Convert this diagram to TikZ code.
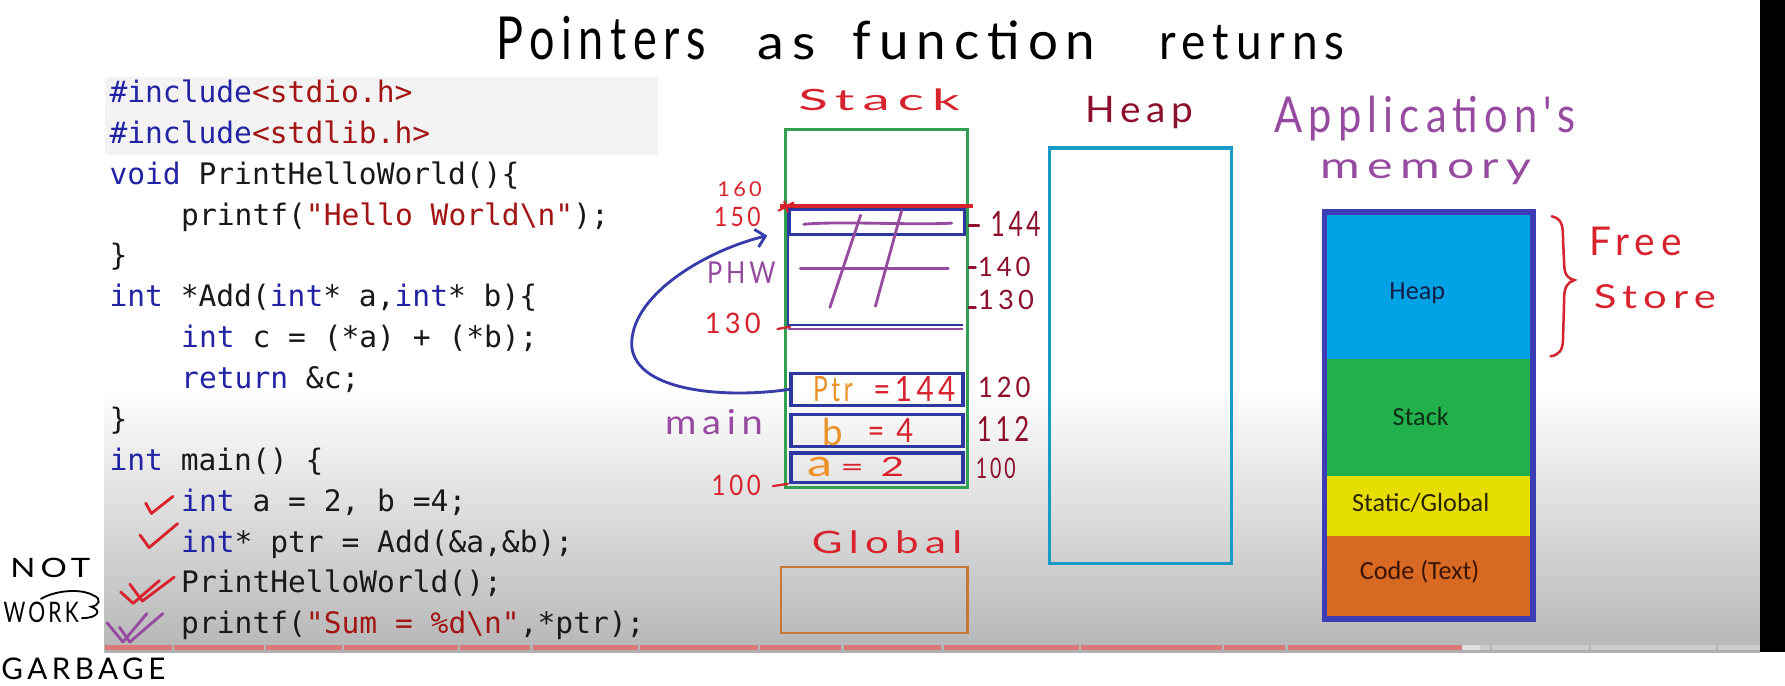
\documentclass[tikz,border=0pt]{standalone}
\usepackage{fontspec}
\usepackage{graphicx}
\usetikzlibrary{arrows.meta}
\newfontfamily\codefont{DejaVu Sans Mono}
\newfontfamily\handfont{Lato}[LetterSpace=15]
\newfontfamily\calfont{Carlito}
\newcommand\hwtext[3]{\resizebox{#1pt}{#2pt}{\handfont #3}}
\definecolor{kwblue}{RGB}{35,35,165}
\definecolor{strred}{RGB}{163,21,21}
\definecolor{codeblack}{RGB}{25,25,25}
\definecolor{hlgrey}{RGB}{243,243,243}
\definecolor{stackgreen}{RGB}{50,160,80}
\definecolor{boxblue}{RGB}{45,55,160}
\definecolor{redhand}{RGB}{215,35,45}
\definecolor{darkred}{RGB}{140,15,45}
\definecolor{purp}{RGB}{150,75,160}
\definecolor{orangeh}{RGB}{235,145,40}
\definecolor{arrowblue}{RGB}{55,60,170}
\definecolor{globorange}{RGB}{200,120,50}
\definecolor{heapcyan}{RGB}{25,155,200}
\definecolor{memborder}{RGB}{60,60,180}
\definecolor{memheap}{RGB}{0,162,230}
\definecolor{memstack}{RGB}{34,176,76}
\definecolor{memstatic}{RGB}{230,222,0}
\definecolor{memcode}{RGB}{215,105,35}
\definecolor{barred}{RGB}{218,120,120}
\definecolor{bgbot}{RGB}{182,182,182}
\newcommand\kwc[1]{\textcolor{kwblue}{#1}}
\newcommand\strc[1]{\textcolor{strred}{#1}}
\tikzset{
  hand/.style={inner sep=0pt, anchor=base west},
  codeline/.style={inner sep=0pt, anchor=base west, text=codeblack, font=\codefont\fontsize{26}{30}\selectfont},
  membox/.style={draw=boxblue, line width=3pt, minimum width=151pt, inner sep=0pt},
  chkred/.style={draw=redhand, line width=2.5pt, line cap=round, line join=round},
  chkpur/.style={draw=purp, line width=2.5pt, line cap=round, line join=round},
  strokep/.style={draw=purp, line width=2.5pt, line cap=round},
  memseg/.style={inner sep=0pt, minimum width=188pt, draw=none},
  memlbl/.style={inner sep=0pt, font=\calfont\fontsize{23}{26}\selectfont},
}
\begin{document}
\begin{tikzpicture}[x=1pt,y=-1pt]
\useasboundingbox (0,0) rectangle (1568,602);
\fill[white] (0,0) rectangle (1568,602);
% video frame background
\shade[top color=white, bottom color=bgbot] (92,340) rectangle (1546,573);
\fill[black] (1546,0) rectangle (1568,573);
% progress bar
\fill[gray!62] (92,570) rectangle (1546,573.5);
\fill[barred] (92,567) rectangle (1284,571);
\foreach \g in {151,232,300,402,466,560,666,739,827,948,1073,1129}
  \fill[bgbot] (\g,567) rectangle (\g+2,571);
\fill[gray!25] (1284,567) rectangle (1300,571);
\fill[gray!40] (1300,567) rectangle (1546,571);
\foreach \g in {1309,1396,1507}
  \fill[bgbot] (\g,567) rectangle (\g+2,571);
% code highlight
\fill[hlgrey] (92,68) rectangle (578,136);

% title
\node[hand] (t1) at (436,52) {\hwtext{184}{38}{Pointers}};
\node[hand] (t2) at (665,52) {\hwtext{51}{22}{as}};
\node[hand] (t3) at (749,52) {\hwtext{213}{34}{function}};
\node[hand] (t4) at (1018,52) {\hwtext{163}{30}{returns}};

% code
\node[codeline] (c1) at (96,90) {\kwc{\#include}\strc{<stdio.h>}};
\node[codeline] (c2) at (96,125.9) {\kwc{\#include}\strc{<stdlib.h>}};
\node[codeline] (c3) at (96,161.8) {\kwc{void} PrintHelloWorld()\{};
\node[codeline] (c4) at (159,197.7) {printf(\strc{"Hello World\textbackslash n"});};
\node[codeline] (c5) at (96,233.6) {\}};
\node[codeline] (c6) at (96,269.5) {\kwc{int} *Add(\kwc{int}* a,\kwc{int}* b)\{};
\node[codeline] (c7) at (159,305.4) {\kwc{int} c = (*a) + (*b);};
\node[codeline] (c8) at (159,341.3) {\kwc{return} \&c;};
\node[codeline] (c9) at (96,377.2) {\}};
\node[codeline] (c10) at (96,413.1) {\kwc{int} main() \{};
\node[codeline] (c11) at (159,449) {\kwc{int} a = 2, b =4;};
\node[codeline] (c12) at (159,484.9) {\kwc{int}* ptr = Add(\&a,\&b);};
\node[codeline] (c13) at (159,520.8) {PrintHelloWorld();};
\node[codeline] (c14) at (159,556.7) {printf(\strc{"Sum = \%d\textbackslash n"},*ptr);};

% check marks
\draw[chkred] (128,442) -- (133,451) -- (152,436);
\draw[chkred] (123,470) -- (131,481) -- (156,460);
\draw[chkred] (106,520) -- (117,530) -- (140,510);
\draw[chkred] (114,513) -- (125,528) -- (153,507);
\draw[chkpur] (94,547) -- (108,564) -- (129,539);
\draw[chkpur] (105,551) -- (114,564) -- (143,539);

% left annotations
\node[hand] (nnot) at (9,507) {\hwtext{70}{17}{NOT}};
\node[hand] (nwork) at (3,547) {\hwtext{66}{18}{WORK}};
\node[hand] (ngarb) at (1,597) {\hwtext{144}{19}{GARBAGE}};
\coordinate (wa1) at (36,526);
\coordinate (wa2) at (72,543);
\draw[black, line width=1.6pt, line cap=round] (wa1) .. controls (50,518) and (72,517) .. (82,523) .. controls (90,526) and (87,532) .. (80,533) .. controls (90,536) and (86,543) .. (wa2);

% stack
\node[hand, text=redhand] (lstack) at (701,97) {\hwtext{142}{19}{Stack}};
\node[draw=stackgreen, line width=2.5pt, minimum width=160pt, minimum height=314pt, inner sep=0pt] (stack) at (770,271) {};
\node[membox, minimum width=154pt, minimum height=22pt] (cbox) at (770,195) {};
\node[membox, minimum height=28pt] (ptrbox) at (770.5,342) {};
\node[membox, minimum height=28pt] (bbox) at (770.5,378) {};
\node[membox, minimum height=26pt] (abox) at (770.5,411) {};
\draw[redhand, line width=3pt] (685,181) -- (855,181);
\draw[redhand, line width=2pt, line cap=round] (684,185) -- (697,178);
\draw[redhand, line width=2pt, line cap=round] (689,177) -- (692,186);
% crossed-out frame
\draw[strokep] (706,197) .. controls (740,194) and (800,198) .. (836,196);
\draw[strokep] (703,236) -- (833,236);
\draw[strokep] (756,189) -- (729,270);
\draw[strokep] (792,185) -- (769,269);
\draw[boxblue, line width=2pt] (692,285.5) -- (846,285.5);
\draw[purp, line width=2pt] (692,289) -- (846,289);
\draw[boxblue, line width=1.5pt] (692,207) -- (692,287);
\draw[redhand, line width=2pt, line cap=round] (683,289) -- (694,287);
\draw[redhand, line width=2pt, line cap=round] (679,427) -- (692,425);
\draw[darkred, line width=2pt, line cap=round] (851,198) -- (860,198);
\draw[darkred, line width=2pt, line cap=round] (851,235) -- (857,235);
\draw[darkred, line width=2pt, line cap=round] (851,270) -- (857,270);
% left labels
\node[hand, text=redhand] (l160) at (630,173) {\hwtext{39}{13}{160}};
\node[hand, text=redhand] (l150) at (627,199) {\hwtext{41}{17}{150}};
\node[hand, text=purp] (lphw) at (621,249) {\hwtext{60}{19}{PHW}};
\node[hand, text=redhand] (l130) at (619,293) {\hwtext{49}{18}{130}};
\node[hand, text=purp] (lmain) at (584,382) {\hwtext{86}{22}{main}};
\node[hand, text=redhand] (l100) at (625,435) {\hwtext{43}{18}{100}};
% right labels
\node[hand, text=darkred] (r144) at (870,208) {\hwtext{44}{22}{144}};
\node[hand, text=darkred] (r140) at (859,243) {\hwtext{46}{17}{140}};
\node[hand, text=darkred] (r130) at (859,272) {\hwtext{49}{17}{130}};
\node[hand, text=darkred] (r120) at (859,349) {\hwtext{46}{18}{120}};
\node[hand, text=darkred] (r112) at (858,388) {\hwtext{46}{22}{112}};
\node[hand, text=darkred] (r100) at (857,420) {\hwtext{35}{18}{100}};
% box contents
\node[hand, text=orangeh] (vptr) at (714,353) {\hwtext{35}{22}{Ptr}};
\node[hand, text=redhand] (vptrv) at (767,353) {\hwtext{72}{22}{=144}};
\node[hand, text=orangeh] (vb) at (722,391) {\hwtext{18}{24}{b}};
\node[hand, text=redhand] (vbv) at (762,389) {\hwtext{40}{21}{= 4}};
\node[hand, text=orangeh] (va) at (709,419) {\hwtext{22}{17}{a}};
\node[hand, text=redhand] (vav) at (738,419) {\hwtext{56}{17}{= 2}};
% arrow from ptr to c
\coordinate (ctip) at (674,207);
\draw[arrowblue, line width=2.5pt, -{Straight Barb[length=8pt,width=16pt]}] (ptrbox.west) .. controls (640,350) and (560,345) .. (555,305) .. controls (552,260) and (620,220) .. (ctip);

% global
\node[hand, text=redhand] (lglobal) at (713,486) {\hwtext{132}{20}{Global}};
\node[draw=globorange, line width=2.5pt, minimum width=164pt, minimum height=58pt, inner sep=0pt] (global) at (768,527) {};

% heap
\node[hand, text=darkred] (lheap) at (953,108) {\hwtext{95}{23}{Heap}};
\node[draw=heapcyan, line width=3pt, minimum width=160pt, minimum height=365pt, inner sep=0pt] (heap) at (1002,312.5) {};

% application memory
\node[hand, text=purp] (lapp) at (1119,116) {\hwtext{265}{32}{Application's}};
\node[hand, text=purp] (lmem) at (1160,156.5) {\hwtext{185}{16.5}{memory}};
\node[memseg, fill=memheap, minimum height=131pt] (mheap) at (1255,249.5) {};
\node[memseg, fill=memstack, minimum height=103pt] (mstack) at (1255,366.5) {};
\node[memseg, fill=memstatic, minimum height=53pt] (mstatic) at (1255,444.5) {};
\node[memseg, fill=memcode, minimum height=75pt] (mcode) at (1255,508.5) {};
\node[draw=memborder, line width=5pt, minimum width=183pt, minimum height=357pt, inner sep=0pt] (mem) at (1255,365) {};
\node[memlbl, text={rgb,255:red,20;green,30;blue,70}] (tmheap) at (1245,258) {Heap};
\node[memlbl, text={rgb,255:red,15;green,45;blue,20}] (tmstack) at (1248,366) {Stack};
\node[memlbl, text={rgb,255:red,45;green,35;blue,0}] (tmstatic) at (1248,442) {Static/Global};
\node[memlbl, text={rgb,255:red,60;green,20;blue,5}] (tmcode) at (1247,502) {Code (Text)};

% free store
\draw[redhand, line width=2.2pt, line cap=round] (1363,190) .. controls (1372,192) and (1373,198) .. (1373,210) -- (1374,232) .. controls (1374,242) and (1378,245) .. (1383,246) .. controls (1377,248) and (1374,252) .. (1374,262) -- (1373,298) .. controls (1373,308) and (1369,312) .. (1362,313);
\node[hand, text=redhand] (lfree) at (1396,224) {\hwtext{81}{25}{Free}};
\node[hand, text=redhand] (lstore) at (1400,271) {\hwtext{107}{21}{Store}};
\end{tikzpicture}
\end{document}
